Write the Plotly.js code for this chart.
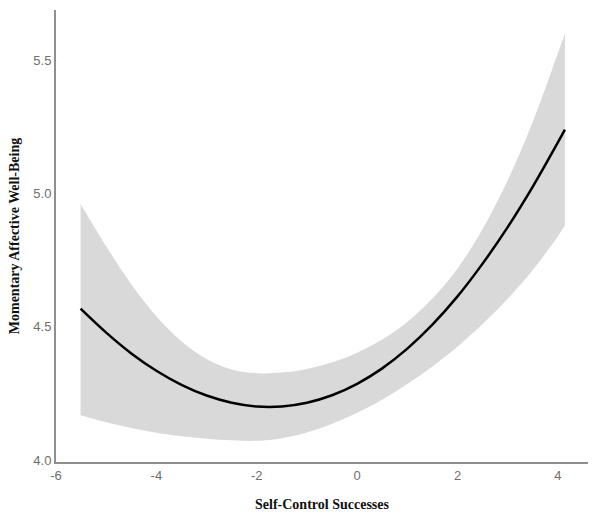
<!DOCTYPE html>
<html>
<head>
<meta charset="utf-8">
<script src="https://cdn.plot.ly/plotly-3.0.1.min.js"></script>
<style>
    html, body { margin: 0; padding: 0; background: #fff; }
    #chart { width: 600px; height: 521px; }
</style>
</head>
<body>
<div id="chart"></div>
<script>
// Values
const successes = [-5.51, -5, -4.5, -4, -3.5, -3, -2.5, -2, -1.5, -1, -0.5, 0, 0.5, 1, 1.5, 2, 2.5, 3, 3.5, 4, 4.14];
const wellBeing = [4.568, 4.478, 4.400, 4.335, 4.282, 4.242, 4.215, 4.201, 4.201, 4.215, 4.243, 4.286, 4.344, 4.418, 4.508, 4.614, 4.737, 4.874, 5.026, 5.192, 5.240];
const upperCI   = [4.961, 4.802, 4.660, 4.540, 4.446, 4.379, 4.340, 4.326, 4.328, 4.342, 4.367, 4.403, 4.452, 4.518, 4.606, 4.719, 4.867, 5.050, 5.270, 5.527, 5.601];
const lowerCI   = [4.168, 4.142, 4.120, 4.102, 4.089, 4.080, 4.074, 4.072, 4.082, 4.103, 4.136, 4.177, 4.226, 4.285, 4.351, 4.425, 4.510, 4.605, 4.713, 4.840, 4.880];

const xTicks = [-6, -4, -2, 0, 2, 4];
const yTicks = [4.0, 4.5, 5.0, 5.5];

const axisColor = '#8f8f8f';
const tickColor = '#6e6e6e';
const bandColor = '#d9d9d9';

const traces = [
    { x: successes, y: lowerCI, type: 'scatter', mode: 'lines', line: { width: 0, shape: 'spline' }, hoverinfo: 'skip', showlegend: false },
    { x: successes, y: upperCI, type: 'scatter', mode: 'lines', line: { width: 0, shape: 'spline' }, fill: 'tonexty', fillcolor: bandColor, hoverinfo: 'skip', showlegend: false },
    { x: successes, y: wellBeing, type: 'scatter', mode: 'lines', line: { color: '#000', width: 2.5, shape: 'spline' }, showlegend: false }
];

const layout = {
    width: 600,
    height: 521,
    paper_bgcolor: '#fff',
    plot_bgcolor: '#fff',
    margin: { l: 56, r: 12, t: 10, b: 59 },
    font: { family: 'Liberation Sans, Arial, sans-serif', color: tickColor, size: 13 },
    xaxis: {
        range: [-6, 4.6],
        tickvals: xTicks,
        ticktext: xTicks.map(String),
        showgrid: false,
        zeroline: false,
        showline: true,
        linecolor: axisColor,
        linewidth: 2,
        ticks: '',
        tickfont: { size: 13, color: tickColor },
        title: {
            text: 'Self-Control Successes',
            font: { family: 'Liberation Serif, Times New Roman, serif', size: 14, color: '#111', weight: 'bold' },
            standoff: 18
        }
    },
    yaxis: {
        range: [3.9925, 5.689],
        tickvals: yTicks,
        ticktext: yTicks.map(v => v.toFixed(1)),
        showgrid: false,
        zeroline: false,
        showline: true,
        linecolor: axisColor,
        linewidth: 2,
        ticks: '',
        tickfont: { size: 13, color: tickColor },
        title: {
            text: 'Momentary Affective Well-Being',
            font: { family: 'Liberation Serif, Times New Roman, serif', size: 14, color: '#111', weight: 'bold' },
            standoff: 10
        }
    }
};

Plotly.newPlot('chart', traces, layout, { displayModeBar: false, staticPlot: true });
</script>
</body>
</html>
